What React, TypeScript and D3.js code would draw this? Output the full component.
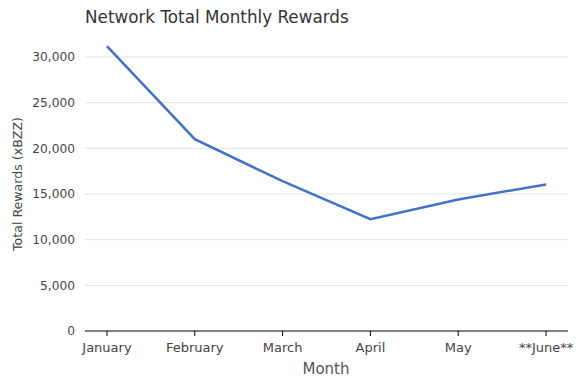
import React from "react";
import * as d3 from "d3";

const months = ["January", "February", "March", "April", "May", "**June**"];
const rewards = [31200, 21000, 16400, 12250, 14400, 16050];
const yTicks = [0, 5000, 10000, 15000, 20000, 25000, 30000];

export default function App() {
  const W = 583, H = 387;
  const m = { left: 85, right: 15, top: 57, bottom: 56 };
  const x = d3.scalePoint<string>().domain(months).range([m.left, W - m.right]).padding(0.25);
  const y = d3.scaleLinear().domain([0, 30000]).range([H - m.bottom, m.top]);
  const line = d3.line<number>().x((_, i) => x(months[i])!).y((d) => y(d));
  const fmt = d3.format(",");
  const font = "'DejaVu Sans', sans-serif";
  return (
    <svg width={W} height={H} style={{ position: "absolute", left: 0, top: 0 }} fontFamily={font}>
      <rect width={W} height={H} fill="#fff" />
      <text x={85} y={23} fontSize={16.8} fill="#333" fontFamily={font}>Network Total Monthly Rewards</text>
      {yTicks.map((t) => (
        <g key={t}>
          {t > 0 && <line x1={m.left} x2={W - m.right} y1={y(t)} y2={y(t)} stroke="#e2e2e2" strokeWidth={1} />}
          <text x={75} y={y(t)} dy="0.35em" textAnchor="end" fontSize={12.2} fill="#444" fontFamily={font}>{fmt(t)}</text>
        </g>
      ))}
      <line x1={m.left} x2={W - m.right} y1={y(0)} y2={y(0)} stroke="#000" strokeWidth={1} />
      {months.map((mo) => (
        <g key={mo}>
          <line x1={x(mo)} x2={x(mo)} y1={y(0)} y2={y(0) + 5} stroke="#000" />
          <text x={x(mo)} y={352} textAnchor="middle" fontSize={13} fill="#444" fontFamily={font}>{mo}</text>
        </g>
      ))}
      <text x={326} y={374} textAnchor="middle" fontSize={15} fill="#555" fontFamily={font}>Month</text>
      <text transform={`translate(21.5,184) rotate(-90)`} textAnchor="middle" fontSize={12.6} fill="#444" fontFamily={font}>Total Rewards (xBZZ)</text>
      <path d={line(rewards)!} fill="none" stroke="#4472C4" strokeWidth={2.5} />
    </svg>
  );
}
